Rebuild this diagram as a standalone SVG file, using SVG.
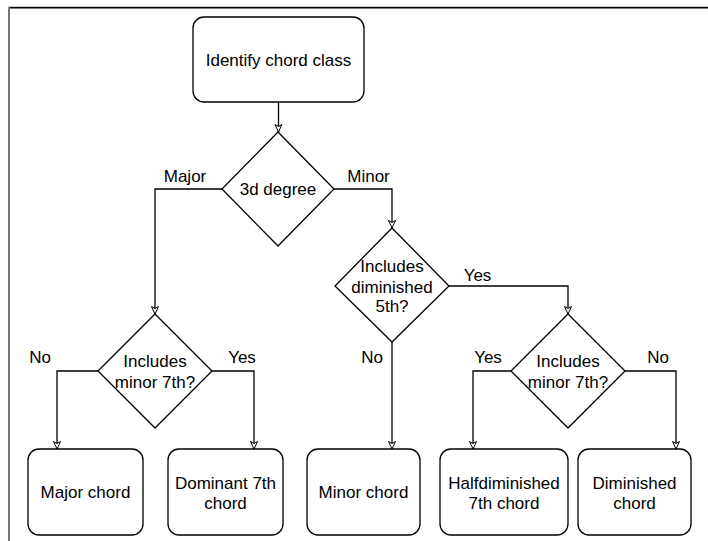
<svg xmlns="http://www.w3.org/2000/svg" width="708" height="541" viewBox="0 0 708 541">
<style>
.box{fill:#fff;stroke:#000;stroke-width:1.3}
.dia{fill:#fff;stroke:#000;stroke-width:1.3}
.t{font-family:"Liberation Sans",Arial,Helvetica,sans-serif;font-size:17px;fill:#000;text-anchor:middle}
.c{fill:none;stroke:#000;stroke-width:1.3}
</style>
<defs>
<marker id="arr" markerWidth="10" markerHeight="10" refX="8" refY="4" orient="auto" markerUnits="userSpaceOnUse">
<path d="M0.5,0.5 L8,4 L0.5,7.5 L2.5,4 Z" fill="#fff" stroke="#000" stroke-width="1"/>
</marker>
</defs>
<rect width="708" height="541" fill="#fff"/>
<line x1="8" y1="6.5" x2="708" y2="6.5" stroke="#d0d0d0" stroke-width="1"/>
<line x1="8" y1="7.8" x2="708" y2="7.8" stroke="#000" stroke-width="1.5"/>
<line x1="9" y1="7" x2="9" y2="541" stroke="#777" stroke-width="2"/>

<g id="connectors">
<path class="c" d="M278.5,102 L278.5,132" marker-end="url(#arr)"/>
<path class="c" d="M222,189 L155,189 L155,314" marker-end="url(#arr)"/>
<path class="c" d="M334,189 L392,189 L392,228" marker-end="url(#arr)"/>
<path class="c" d="M449,286 L568,286 L568,314" marker-end="url(#arr)"/>
<path class="c" d="M392,342 L392,449" marker-end="url(#arr)"/>
<path class="c" d="M98,371 L57,371 L57,449" marker-end="url(#arr)"/>
<path class="c" d="M212,371 L254,371 L254,449" marker-end="url(#arr)"/>
<path class="c" d="M511,371 L473,371 L473,449" marker-end="url(#arr)"/>
<path class="c" d="M625,371 L676,371 L676,449" marker-end="url(#arr)"/>
<text class="t" x="185" y="182">Major</text>
<text class="t" x="368.5" y="182">Minor</text>
<text class="t" x="477.5" y="281">Yes</text>
<text class="t" x="372" y="363">No</text>
<text class="t" x="40" y="363">No</text>
<text class="t" x="242" y="363">Yes</text>
<text class="t" x="488" y="363">Yes</text>
<text class="t" x="658" y="363">No</text>
</g>

<g id="start">
<rect class="box" x="193" y="17" width="171" height="85" rx="11"/>
<text class="t" x="278.5" y="66">Identify chord class</text>
</g>

<g id="d-3d">
<path class="dia" d="M278,132 L334,189 L278,246 L222,189 Z"/>
<text class="t" x="278" y="195">3d degree</text>
</g>

<g id="d-dim5">
<path class="dia" d="M392,228 L449,286 L392,342 L335,286 Z"/>
<text class="t" x="392" y="272">Includes</text>
<text class="t" x="392" y="292.5">diminished</text>
<text class="t" x="392" y="312">5th?</text>
</g>

<g id="d-min7-left">
<path class="dia" d="M155,314 L212,371 L155,428 L98,371 Z"/>
<text class="t" x="155" y="367">Includes</text>
<text class="t" x="155" y="388">minor 7th?</text>
</g>

<g id="d-min7-right">
<path class="dia" d="M568,314 L625,371 L568,428 L511,371 Z"/>
<text class="t" x="568" y="367">Includes</text>
<text class="t" x="568" y="388">minor 7th?</text>
</g>

<g id="major">
<rect class="box" x="28" y="449" width="115" height="86" rx="11"/>
<text class="t" x="85.5" y="498">Major chord</text>
</g>

<g id="dominant">
<rect class="box" x="168" y="449" width="115" height="86" rx="11"/>
<text class="t" x="225.5" y="489">Dominant 7th</text>
<text class="t" x="225.5" y="509">chord</text>
</g>

<g id="minor">
<rect class="box" x="307" y="449" width="113" height="86" rx="11"/>
<text class="t" x="363.5" y="498">Minor chord</text>
</g>

<g id="halfdim">
<rect class="box" x="440" y="449" width="128" height="86" rx="11"/>
<text class="t" x="504" y="489">Halfdiminished</text>
<text class="t" x="504" y="509">7th chord</text>
</g>

<g id="dim">
<rect class="box" x="578" y="449" width="113" height="86" rx="11"/>
<text class="t" x="634.5" y="489">Diminished</text>
<text class="t" x="634.5" y="509">chord</text>
</g>
</svg>
